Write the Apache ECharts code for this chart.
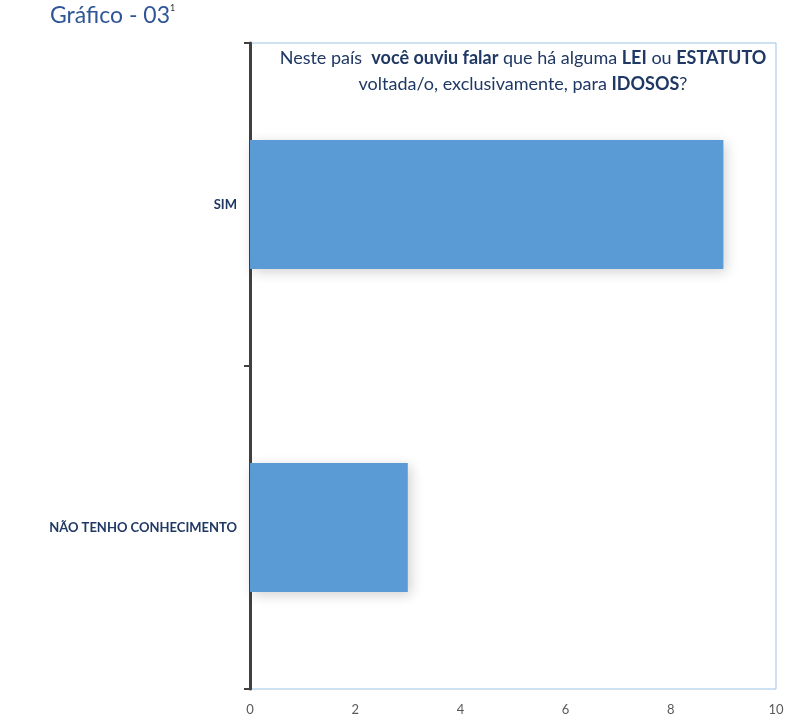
<!DOCTYPE html>
<html>
<head>
<meta charset="utf-8">
<script src="https://cdn.jsdelivr.net/npm/echarts@6/dist/echarts.min.js"></script>
<style>
html,body{margin:0;padding:0;background:#fff;}
#chart{width:812px;height:716px;}
</style>
</head>
<body>
<div id="chart"></div>
<script>
const categories = ['SIM', 'NÃO TENHO CONHECIMENTO'];
const values = [9, 3];
const xTicks = [0, 2, 4, 6, 8, 10];

const chart = echarts.init(document.getElementById('chart'));
const font = 'Lato';
chart.setOption({
  animation: false,
  title: [
    {
      text: '{t|Gráfico - 03}{s|1}',
      left: 45, top: -1,
      textStyle: {
        rich: {
          t: { fontFamily: font, fontSize: 23, color: '#2f5597', fontWeight: 'normal' },
          s: { fontFamily: font, fontSize: 9, color: '#333', fontWeight: 'normal', verticalAlign: 'top', padding: [0,0,10,0] }
        }
      }
    },
    {
      text: '{n|Neste país  }{b|você ouviu falar}{n| que há alguma }{b|LEI}{n| ou }{b|ESTATUTO}\n{n|voltada/o, exclusivamente, para }{b|IDOSOS}{n|?}',
      left: 518, top: 40, textAlign: 'center',
      textStyle: {
        align: 'center',
        lineHeight: 26,
        rich: {
          n: { fontFamily: font, fontSize: 18, color: '#1f3864', fontWeight: 'normal', lineHeight: 26 },
          b: { fontFamily: font, fontSize: 18, color: '#1f3864', fontWeight: 'bold', lineHeight: 26 }
        }
      }
    }
  ],
  grid: {
    left: 250, right: 36, top: 43, bottom: 25,
    show: true, borderColor: '#9dc3e6', borderWidth: 1, backgroundColor: 'transparent'
  },
  xAxis: {
    type: 'value', min: 0, max: 10, interval: 2,
    axisLine: { show: false },
    axisTick: { show: false },
    splitLine: { show: false },
    axisLabel: { color: '#595959', fontFamily: font, fontSize: 13, margin: 14,
      formatter: v => xTicks.includes(v) ? String(v) : '' }
  },
  yAxis: {
    type: 'category', data: categories, inverse: true,
    axisLine: { show: true, lineStyle: { color: '#404040', width: 3 } },
    axisTick: { show: true, length: 6, lineStyle: { color: '#404040', width: 2 } },
    axisLabel: { color: '#1f3864', fontFamily: font, fontSize: 13, fontWeight: 'bold', margin: 13 }
  },
  series: [{
    type: 'bar',
    data: values,
    barWidth: '40%',
    itemStyle: {
      color: '#5b9bd5',
      shadowBlur: 12, shadowOffsetX: 3, shadowOffsetY: 3, shadowColor: 'rgba(0,0,0,0.18)'
    }
  }]
});
</script>
</body>
</html>
